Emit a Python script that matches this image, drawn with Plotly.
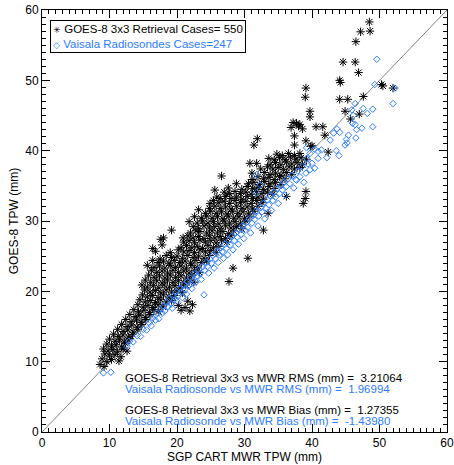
import plotly.graph_objects as go

# ---------------- data ----------------
# GOES-8 3x3 retrieval: (SGP CART MWR TPW, GOES-8 TPW) in mm
goes_pairs = [
    (8.6,9.6),(9.2,9.3),
    (8.9,10.4),(9.6,10.0),(10.3,10.3),(11.4,10.1),
    (9.3,11.1),(10.0,10.8),(10.8,11.0),(11.7,10.7),
    (9.1,11.8),(9.8,11.5),(10.5,11.7),(11.2,11.4),(12.0,11.8),(12.6,11.5),
    (9.6,12.5),(10.3,12.2),(11.0,12.4),(11.8,12.1),(12.4,12.6),
    (10.0,13.2),(10.8,12.9),(11.5,13.1),(12.2,12.8),(13.0,13.3),
    (10.6,13.9),(11.3,13.6),(12.0,13.8),(12.8,13.5),(13.4,13.9),
    (11.2,14.6),(12.0,14.3),(12.7,14.5),(13.5,14.2),(14.2,14.6),
    (11.8,15.3),(12.6,15.0),(13.3,15.2),(14.1,14.9),(14.8,15.3),
    (12.4,16.0),(13.2,15.7),(14.0,15.9),(14.7,15.6),(15.4,16.0),
    (13.0,16.7),(13.8,16.4),(14.5,16.6),(15.3,16.3),(16.0,16.7),
    (13.6,17.4),(14.3,17.1),(15.1,17.3),(15.9,17.0),(16.6,17.4),(17.3,17.1),(20.6,17.3),(21.9,17.2),
    (14.2,18.1),(15.0,17.8),(15.7,18.0),(16.4,17.7),(17.2,18.1),(17.9,17.8),(20.2,18.0),(21.2,17.7),(22.3,18.1),
    (14.5,18.8),(15.3,18.5),(16.1,18.7),(16.8,18.4),(17.6,18.8),(18.4,18.5),(19.2,18.7),(21.6,18.6),
    (14.9,19.5),(15.6,19.2),(16.4,19.4),(17.2,19.1),(18.0,19.5),(18.8,19.2),(19.6,19.4),
    (15.2,20.2),(16.0,19.9),(16.8,20.1),(17.6,19.8),(18.4,20.2),(19.2,19.9),(20.0,20.1),(20.8,19.8),
    (14.8,20.9),(15.6,20.6),(16.5,20.8),(17.3,20.5),(18.1,20.9),(18.9,20.6),(19.7,20.8),(20.5,20.5),(21.3,20.9),
    (15.3,21.6),(16.1,21.3),(17.0,21.5),(17.8,21.2),(18.6,21.6),(19.4,21.3),(20.2,21.5),(21.0,21.2),(21.8,21.6),(22.5,21.3),(27.7,21.4),
    (15.8,22.3),(16.6,22.0),(17.4,22.2),(18.2,21.9),(19.0,22.3),(19.8,22.0),(20.6,22.2),(21.4,21.9),(22.2,22.3),
    (16.2,23.0),(17.0,22.7),(17.8,22.9),(18.6,22.6),(19.4,23.0),(20.2,22.7),(21.0,22.9),(21.8,22.6),(22.6,23.0),(23.3,22.7),
    (15.6,23.7),(16.6,23.4),(17.4,23.6),(18.2,23.3),(19.0,23.7),(19.8,23.4),(20.6,23.6),(21.4,23.3),(22.2,23.7),(23.0,23.4),(28.3,23.3),
    (16.4,24.4),(17.2,24.1),(18.0,24.3),(18.8,24.0),(19.6,24.4),(20.4,24.1),(21.2,24.3),(22.0,24.0),(22.8,24.4),(23.6,24.1),(24.4,24.3),
    (17.5,24.6),(18.4,25.1),(19.2,24.8),(20.0,25.0),(20.8,24.7),(21.6,25.1),(22.4,24.8),(23.2,25.0),(24.0,24.7),(24.8,25.1),(30.5,24.7),
    (16.8,25.7),(19.0,25.5),(20.2,25.9),(21.0,25.6),(21.8,25.8),(22.6,25.5),(23.4,25.9),(24.2,25.6),(25.0,25.8),(25.8,25.5),
    (16.4,26.1),(17.8,26.6),(20.6,26.2),(21.4,26.5),(22.2,26.2),(23.0,26.4),(23.8,26.1),(24.6,26.5),(25.4,26.2),(26.2,26.4),
    (17.6,27.4),(21.0,27.0),(21.8,27.2),(22.6,26.9),(23.4,27.3),(24.2,27.0),(25.0,27.2),(25.8,26.9),(26.6,27.3),(27.4,27.0),
    (18.0,27.6),(20.9,27.6),(21.6,27.9),(22.4,27.6),(23.2,27.8),(24.0,27.5),(24.8,27.9),(25.6,27.6),(26.4,27.8),(27.2,27.5),(28.0,27.9),
    (19.2,28.7),(22.0,28.3),(22.8,28.6),(23.4,28.5),(24.4,28.3),(25.2,28.6),(26.0,28.3),(26.8,28.5),(27.6,28.2),(28.4,28.6),(32.8,28.7),
    (22.4,29.2),(23.2,28.9),(24.0,29.3),(24.8,29.0),(25.6,29.2),(26.4,28.9),(27.2,29.3),(28.0,29.0),(28.8,29.2),(29.6,28.9),
    (21.8,29.9),(23.0,29.7),(23.8,30.0),(24.6,29.7),(25.4,29.9),(26.2,29.6),(27.0,30.0),(27.8,29.7),(28.6,29.9),(29.4,29.6),(30.2,30.0),
    (22.6,30.6),(23.6,30.4),(24.4,30.7),(25.2,30.4),(26.0,30.6),(26.8,30.3),(27.6,30.7),(28.4,30.4),(29.2,30.6),(30.0,30.3),(30.8,30.7),
    (23.2,31.6),(24.2,31.1),(25.0,31.4),(25.8,31.1),(26.6,31.3),(27.4,31.0),(28.2,31.4),(29.0,31.1),(29.8,31.3),(30.6,31.0),(31.4,31.4),(33.5,31.1),
    (24.8,31.8),(25.6,32.1),(26.4,31.8),(27.2,32.0),(28.0,31.7),(28.8,32.1),(29.6,31.8),(30.4,32.0),(31.2,31.7),(32.0,32.1),
    (24.9,32.5),(25.4,32.9),(26.2,32.6),(27.0,32.8),(27.8,32.5),(28.6,32.9),(29.4,32.6),(30.2,32.8),(31.0,32.5),(31.8,32.9),(32.6,32.6),(38.7,32.5),
    (25.9,33.4),(26.4,33.2),(27.2,33.5),(28.0,33.2),(28.8,33.4),(29.6,33.1),(30.4,33.5),(31.2,33.2),(32.0,33.4),(32.8,33.1),(36.2,33.5),(39.0,33.2),
    (25.6,34.4),(27.0,34.1),(27.8,33.9),(28.6,34.2),(29.4,33.9),(30.2,34.1),(31.0,33.8),(31.8,34.2),(32.6,33.9),(33.4,34.1),(34.2,33.8),(39.1,34.2),
    (27.6,34.7),(29.6,34.5),(30.4,34.9),(31.2,34.6),(32.0,34.8),(32.8,34.5),(33.6,34.9),(34.4,34.6),
    (28.8,35.3),(30.6,35.3),(31.4,35.5),(32.2,35.2),(33.0,35.6),(33.8,35.3),(34.6,35.5),(35.4,35.2),
    (31.1,35.9),(32.0,36.3),(32.8,36.0),(33.6,36.2),(34.4,35.9),(35.2,36.3),(36.0,36.0),
    (26.6,36.4),(31.1,36.8),(33.0,36.9),(33.8,36.6),(34.6,36.8),(35.4,36.5),(36.2,36.9),(37.0,36.6),
    (32.4,37.4),(33.4,37.7),(34.2,37.4),(35.0,37.6),(35.8,37.3),(36.6,37.7),(37.4,37.4),(38.2,37.6),
    (30.8,38.2),(31.8,38.2),(33.8,38.0),(34.6,38.3),(35.4,38.0),(36.2,38.4),(37.0,38.1),(37.8,38.3),(38.6,38.0),
    (33.6,38.9),(34.4,38.7),(35.2,39.0),(36.0,38.7),(36.8,39.1),(37.6,38.8),(38.4,39.0),(39.2,38.7),
    (34.8,39.5),(35.6,39.3),(36.5,39.6),(37.4,39.3),(38.2,39.6),(39.8,40.6),
    (48.5,58.3),(47.2,56.9),(48.6,57.0),(46.5,55.5),(44.6,52.6),(46.4,52.6),(46.9,51.1),
    (44.1,50.0),(44.2,49.7),(50.3,49.4),(50.5,49.2),(52.0,48.9),(39.1,48.9),(39.0,47.6),
    (44.1,47.3),(45.3,47.3),(47.6,47.7),(39.7,45.6),(39.7,44.8),(44.9,45.6),(47.0,45.2),
    (45.7,44.5),(37.7,43.9),(38.2,43.7),(36.9,43.3),(40.6,43.4),(41.6,43.4),(38.6,43.1),
    (37.4,42.1),(41.9,42.2),(39.1,41.4),(31.9,41.7),(31.4,40.8),(37.4,40.8),(42.4,39.8),
    (38.0,43.5),(37.2,44.0),(40.0,40.7),
]

# Vaisala radiosondes: (SGP CART MWR TPW, radiosonde TPW) in mm
sonde_pairs = [
    (9.1,8.4),(10.2,8.5),
    (12.6,12.2),(12.9,12.9),(13.5,12.8),(14.1,13.7),(14.6,13.6),(15.0,14.6),(15.5,14.5),
    (15.9,15.5),(16.2,15.1),(16.4,16.2),(16.8,15.9),(17.0,16.9),(17.3,16.1),(17.5,17.4),
    (17.8,16.9),(18.0,17.9),(18.2,17.2),(18.5,18.4),(18.7,17.8),(18.9,19.0),(19.1,18.2),
    (19.3,17.6),(19.4,19.3),(19.6,18.8),(19.9,19.9),(20.0,18.6),(20.2,19.4),(20.4,20.4),
    (20.6,19.9),(20.8,19.1),(21.0,20.9),(21.2,20.3),(21.4,19.6),(21.6,21.4),(21.8,20.8),
    (22.0,21.9),(22.2,20.4),(22.4,21.4),(22.6,22.5),(22.8,21.3),(23.0,22.2),(23.2,23.1),
    (23.4,22.5),(23.6,21.7),(23.8,23.5),(24.0,19.5),(24.1,23.0),(24.3,24.1),(24.5,23.5),
    (24.7,22.6),(24.9,24.6),(25.1,24.0),(25.3,25.1),(25.5,23.3),(25.7,24.6),(25.9,25.7),
    (26.1,24.1),(26.3,25.2),(26.5,26.2),(26.7,25.6),(26.9,24.7),(27.1,26.7),(27.3,26.1),
    (27.5,25.2),(27.7,27.3),(27.9,26.6),(28.1,27.8),(28.3,25.9),(28.5,27.2),(28.7,28.3),
    (28.9,27.7),(29.1,26.7),(29.3,28.8),(29.5,28.1),(29.7,29.3),(29.9,27.5),(30.1,28.7),
    (30.3,29.8),(30.5,29.1),(30.7,30.3),(30.9,28.3),(31.1,29.7),(31.3,30.8),(31.5,30.2),
    (31.7,31.4),(31.8,34.0),(31.8,36.6),(32.0,29.3),(32.1,30.7),(32.3,35.1),(32.4,31.9),
    (32.6,31.3),(32.8,32.5),(33.0,30.3),(33.2,31.8),(33.4,33.0),(33.6,32.3),(33.8,33.6),
    (34.0,31.5),(34.2,32.9),(34.4,34.1),(34.6,33.4),(34.8,34.6),(35.0,32.5),(35.2,33.9),
    (35.4,35.0),(35.6,34.4),(35.8,35.5),(36.0,33.7),(36.2,34.9),(36.4,36.0),(36.7,35.3),
    (37.0,36.5),(37.3,34.7),(37.6,35.9),(37.9,37.1),(38.2,36.3),(38.5,37.7),(38.8,35.5),
    (39.1,36.8),(39.4,38.1),(39.7,37.3),(39.2,38.9),(39.7,39.6),(40.4,40.2),(40.9,39.9),
    (41.4,40.1),(40.9,38.9),(39.2,40.4),(40.0,38.2),(40.4,37.5),(37.7,35.8),(42.2,39.0),
    (49.6,53.0),(49.3,49.4),(52.3,48.9),(52.0,46.7),(46.4,46.7),(49.0,45.9),(47.6,46.0),
    (48.2,45.3),(45.9,45.8),(46.1,45.0),(46.0,43.9),(46.4,43.7),(49.0,43.4),(47.4,43.2),
    (46.6,43.0),(43.7,43.1),(44.1,42.6),(43.2,42.5),(45.4,42.2),(45.1,41.6),(46.5,41.8),
    (42.7,41.5),(44.9,40.8),(45.2,41.1),(43.6,40.0),(44.0,39.3),
]

goes_mwr = [p[0] for p in goes_pairs]
goes_tpw = [p[1] for p in goes_pairs]
sonde_mwr = [p[0] for p in sonde_pairs]
sonde_tpw = [p[1] for p in sonde_pairs]

goes_cases = 550
sonde_cases = 247
goes_rms, sonde_rms = "3.21064", "1.96994"
goes_bias, sonde_bias = "1.27355", "-1.43980"

one_to_one = [0, 60]
tick_vals = [0, 10, 20, 30, 40, 50, 60]

BLUE = "#2b7cff"
FONT = "Liberation Sans, Arial, Helvetica, sans-serif"
NB = "\u00a0"

fig = go.Figure()
fig.add_trace(go.Scatter(x=one_to_one, y=one_to_one, mode="lines",
                         line=dict(color="#808080", width=1), showlegend=False,
                         hoverinfo="skip"))
fig.add_trace(go.Scatter(x=goes_mwr, y=goes_tpw, mode="markers",
                         name=f"GOES-8 3x3 Retrieval Cases= {goes_cases}", showlegend=False,
                         marker=dict(symbol="asterisk-open", size=7, color="black",
                                     line=dict(color="black", width=1))))
fig.add_trace(go.Scatter(x=sonde_mwr, y=sonde_tpw, mode="markers",
                         name=f"Vaisala Radiosondes Cases={sonde_cases}", showlegend=False,
                         marker=dict(symbol="diamond-open", size=5, color=BLUE,
                                     line=dict(color=BLUE, width=1))))

axis_common = dict(
    range=[0, 60], tickvals=tick_vals, ticks="inside", ticklen=8, tickwidth=1,
    tickcolor="black", showline=True, linecolor="black", linewidth=1, mirror="allticks",
    showgrid=False, zeroline=False, automargin=False,
    tickfont=dict(size=12, color="black", family=FONT),
    minor=dict(dtick=1, ticks="inside", ticklen=4, tickcolor="black", showgrid=False),
)
fig.update_xaxes(**axis_common, title=dict(text="SGP CART MWR TPW (mm)",
                 font=dict(size=12, color="black", family=FONT), standoff=2))
fig.update_yaxes(**axis_common, title=dict(text="GOES-8 TPW (mm)",
                 font=dict(size=12, color="black", family=FONT), standoff=4))

# legend box (two entries) as a bordered text block
legend_text = (f"<span style='font-size:9px'>\u2733</span> GOES-8 3x3 Retrieval Cases= {goes_cases}<br>"
               f"<span style='color:{BLUE}'><span style='font-size:9px'>\u25c7</span> "
               f"Vaisala Radiosondes Cases={sonde_cases}</span>")
fig.add_annotation(text=legend_text, xref="paper", yref="paper", x=0.02, y=0.977,
                   xanchor="left", yanchor="top", align="left", showarrow=False,
                   bordercolor="black", borderwidth=1, borderpad=2, bgcolor="white",
                   font=dict(size=11.5, color="black", family=FONT))

stats = [
    (f"GOES-8 Retrieval 3x3 vs MWR RMS (mm) ={NB} {goes_rms}", "black", 0.128),
    (f"Vaisala Radiosonde vs MWR RMS (mm) ={NB} {sonde_rms}", BLUE, 0.102),
    (f"GOES-8 Retrieval 3x3 vs MWR Bias (mm) ={NB} {goes_bias}", "black", 0.052),
    (f"Vaisala Radiosonde vs MWR Bias (mm) ={NB} {sonde_bias}", BLUE, 0.026),
]
for txt, col, yp in stats:
    fig.add_annotation(text=txt, xref="paper", yref="paper", x=0.2, y=yp,
                       xanchor="left", yanchor="middle", showarrow=False,
                       font=dict(size=11.5, color=col, family=FONT))

fig.update_layout(
    width=454, height=465,
    margin=dict(l=42, r=7, t=10, b=33),
    paper_bgcolor="white", plot_bgcolor="white",
    font=dict(family=FONT, color="black"),
    showlegend=False,
)
fig.write_html("out.html", config={"displayModeBar": False},
               post_script="document.body.style.margin='0';")
